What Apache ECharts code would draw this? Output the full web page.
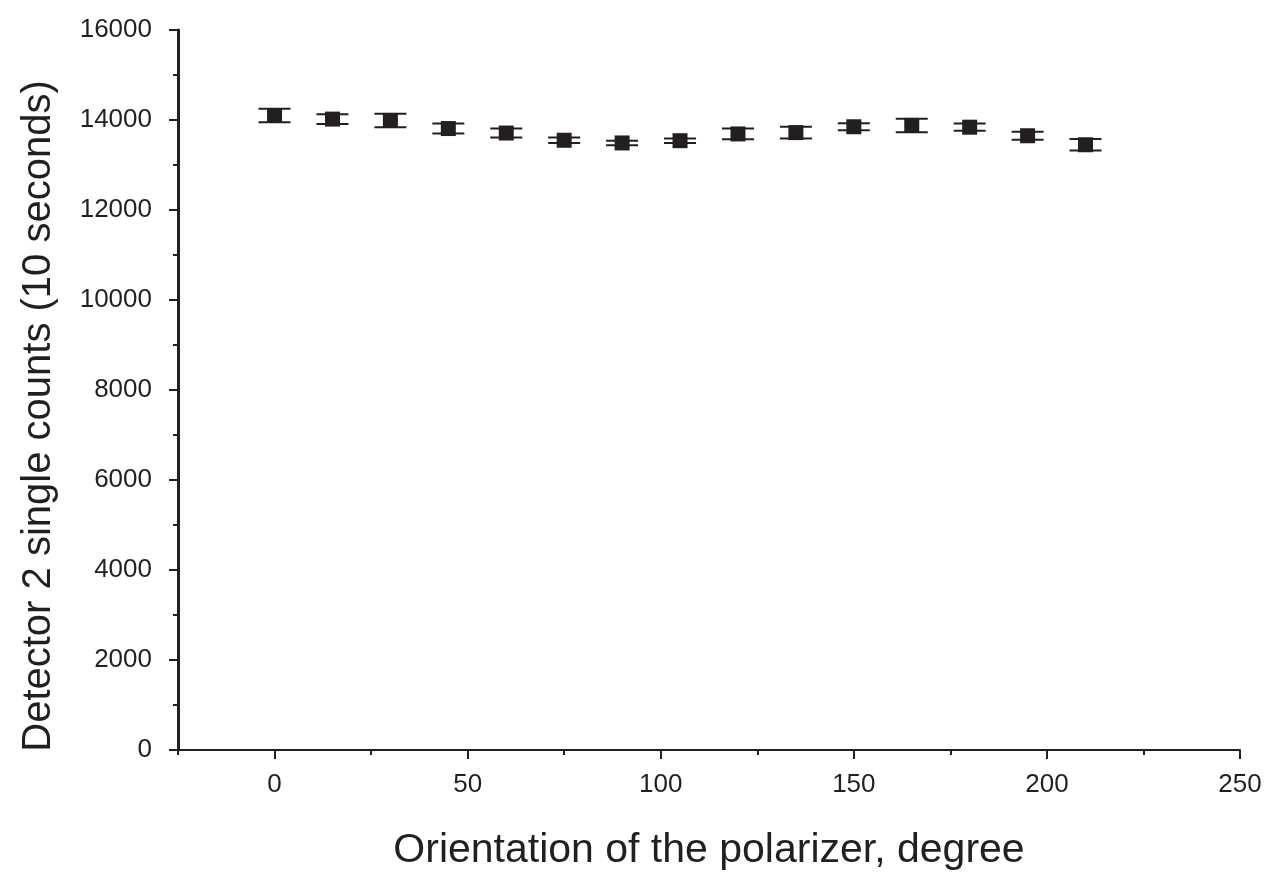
<!DOCTYPE html>
<html lang="en">
<head>
    <meta charset="UTF-8">
    <title>Detector 2 single counts</title>
    <script src="https://cdn.jsdelivr.net/npm/echarts@6/dist/echarts.min.js"></script>
    <style>
        html, body { margin: 0; padding: 0; background: #fff; }
        #main { width: 1283px; height: 872px; }
    </style>
</head>
<body>
    <div id="main"></div>
    <script>
        // polarizer angle (degree) and single counts per 10 s
        var angles = [0, 15, 30, 45, 60, 75, 90, 105, 120, 135, 150, 165, 180, 195, 210];
        var counts = [14100, 14020, 13990, 13810, 13710, 13550, 13490, 13540, 13690, 13720, 13850, 13880, 13840, 13650, 13450];
        var errors = [150, 110, 150, 110, 100, 60, 50, 50, 120, 130, 80, 150, 80, 90, 130];
        var xMajor = [0, 50, 100, 150, 200, 250];
        var xMinor = [-25, 25, 75, 125, 175, 225];

        var ink = '#231f20';
        var font = '"Liberation Sans", Arial, sans-serif';

        var points = angles.map(function (a, i) { return [a, counts[i]]; });
        var bars = angles.map(function (a, i) { return [a, counts[i] - errors[i], counts[i] + errors[i]]; });

        var myChart = echarts.init(document.getElementById('main'));

        myChart.setOption({
            animation: false,
            grid: { left: 178, right: 43, top: 30, bottom: 122, outerBoundsMode: 'none', containLabel: false },
            xAxis: [{
                type: 'value',
                min: -25,
                max: 250,
                name: 'Orientation of the polarizer, degree',
                nameLocation: 'middle',
                nameGap: 80,
                nameTextStyle: { fontFamily: font, fontSize: 41, color: ink },
                splitLine: { show: false },
                axisLine: { onZero: false, lineStyle: { color: ink, width: 2 } },
                axisTick: { customValues: xMajor, length: 9, lineStyle: { color: ink, width: 2 } },
                axisLabel: { customValues: xMajor, margin: 22, fontFamily: font, fontSize: 26, color: ink }
            }, {
                type: 'value',
                min: -25,
                max: 250,
                position: 'bottom',
                splitLine: { show: false },
                axisLine: { show: false, onZero: false },
                axisTick: { customValues: xMinor, length: 5, lineStyle: { color: ink, width: 2 } },
                axisLabel: { show: false }
            }],
            yAxis: {
                type: 'value',
                min: 0,
                max: 16000,
                interval: 2000,
                name: 'Detector 2 single counts (10 seconds)',
                nameLocation: 'middle',
                nameGap: 119,
                nameTextStyle: { fontFamily: font, fontSize: 40, color: ink, padding: [0, 52, 0, 0] },
                splitLine: { show: false },
                axisLine: { onZero: false, lineStyle: { color: ink, width: 3 } },
                axisTick: { length: 9, lineStyle: { color: ink, width: 2 } },
                minorTick: { show: true, splitNumber: 2, length: 5, lineStyle: { color: ink, width: 2 } },
                axisLabel: {
                    margin: 26, fontFamily: font, fontSize: 26, color: ink,
                    formatter: function (v) { return String(v); }
                }
            },
            series: [{
                type: 'custom',
                data: bars,
                z: 2,
                renderItem: function (params, api) {
                    var lo = api.coord([api.value(0), api.value(1)]);
                    var hi = api.coord([api.value(0), api.value(2)]);
                    var hw = 16;
                    var st = { stroke: ink, lineWidth: 2 };
                    return {
                        type: 'group',
                        children: [
                            { type: 'line', shape: { x1: hi[0], y1: hi[1], x2: lo[0], y2: lo[1] }, style: st },
                            { type: 'line', shape: { x1: hi[0] - hw, y1: hi[1], x2: hi[0] + hw, y2: hi[1] }, style: st },
                            { type: 'line', shape: { x1: lo[0] - hw, y1: lo[1], x2: lo[0] + hw, y2: lo[1] }, style: st }
                        ]
                    };
                }
            }, {
                type: 'scatter',
                data: points,
                symbol: 'rect',
                symbolSize: 15,
                z: 3,
                itemStyle: { color: ink, opacity: 1 }
            }]
        });
    </script>
</body>
</html>
